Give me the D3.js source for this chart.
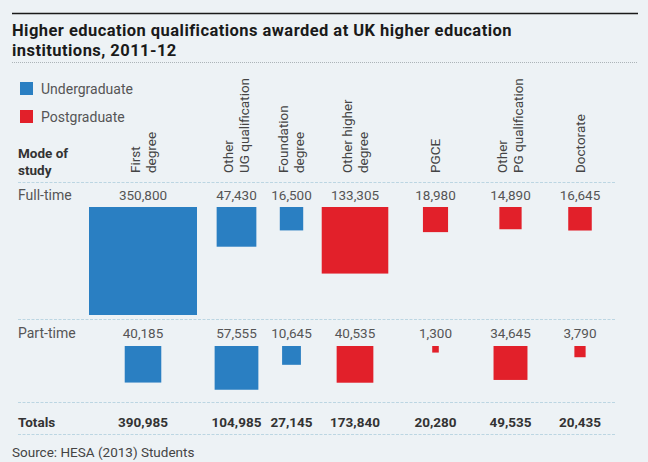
<!DOCTYPE html>
<html>
<head>
<meta charset="utf-8">
<script src="https://cdn.jsdelivr.net/npm/d3@7"></script>
<style>
  html, body { margin: 0; padding: 0; background: #edf2f5; }
  svg { display: block; }
  text { font-family: Roboto, "Noto Sans", sans-serif; }
</style>
</head>
<body>
<script>
// ---------- DATA ----------
const categories = ["First degree", "Other UG qualification", "Foundation degree", "Other higher degree", "PGCE", "Other PG qualification", "Doctorate"];
const categoryLabelLines = [["First", "degree"], ["Other", "UG qualification"], ["Foundation", "degree"], ["Other higher", "degree"], ["PGCE"], ["Other", "PG qualification"], ["Doctorate"]];
const levels = ["Undergraduate", "Undergraduate", "Undergraduate", "Postgraduate", "Postgraduate", "Postgraduate", "Postgraduate"];
const modes = ["Full-time", "Part-time"];
const fullTime = [350800, 47430, 16500, 133305, 18980, 14890, 16645];
const partTime = [40185, 57555, 10645, 40535, 1300, 34645, 3790];
const totals = [390985, 104985, 27145, 173840, 20280, 49535, 20435];
const legendItems = ["Undergraduate", "Postgraduate"];

// ---------- LAYOUT ----------
const W = 648, H = 462;
const colCenters = [143, 236.5, 291.5, 355, 435.5, 510.5, 580];
const rowValueBaseline = [200, 338];
const rowSquareTop = [207, 346];
const ruleYs = [182, 319, 402, 434];
const colors = { "Undergraduate": "#2a7fc2", "Postgraduate": "#e2202a" };

const svg = d3.select("body").append("svg").attr("width", W).attr("height", H);
svg.append("rect").attr("width", W).attr("height", H).attr("fill", "#edf2f5");

// Scales
const x = d3.scaleOrdinal().domain(categories).range(colCenters);
const yVal = d3.scaleOrdinal().domain(modes).range(rowValueBaseline);
const yTop = d3.scaleOrdinal().domain(modes).range(rowSquareTop);
const size = d3.scaleSqrt().domain([0, d3.max(fullTime.concat(partTime))]).range([0, 108]);
const fmt = d3.format(",");

// Title
svg.append("line").attr("x1", 12).attr("x2", 638).attr("y1", 13.5).attr("y2", 13.5)
  .attr("stroke", "#1a1a1a").attr("stroke-width", 1.6);
const title = svg.append("text").attr("x", 12).attr("y", 36)
  .attr("font-size", 16.5).attr("font-weight", 700).attr("letter-spacing", 0.45).attr("fill", "#1a1a1a");
title.append("tspan").attr("x", 12).attr("y", 36).text("Higher education qualifications awarded at UK higher education");
title.append("tspan").attr("x", 12).attr("y", 55.5).text("institutions, 2011-12");
svg.append("line").attr("x1", 12).attr("x2", 638).attr("y1", 62.5).attr("y2", 62.5)
  .attr("stroke", "#9aa3a8").attr("stroke-width", 0.8).attr("stroke-dasharray", "1,1");

// Legend
const leg = svg.append("g");
legendItems.forEach((k, i) => {
  leg.append("rect").attr("x", 20).attr("y", 82 + i * 28).attr("width", 13).attr("height", 13)
    .attr("fill", colors[k]);
  leg.append("text").attr("x", 41).attr("y", 94 + i * 28).attr("font-size", 14)
    .attr("fill", "#555").text(k);
});

// Header "Mode of study"
svg.append("text").attr("x", 18).attr("y", 158).attr("font-size", 13.5).attr("font-weight", 700)
  .attr("fill", "#333").text("Mode of");
svg.append("text").attr("x", 18).attr("y", 175).attr("font-size", 13.5).attr("font-weight", 700)
  .attr("fill", "#333").text("study");

// Column labels (rotated)
categories.forEach((c, i) => {
  const lines = categoryLabelLines[i];
  const n = lines.length;
  lines.forEach((ln, j) => {
    const bx = x(c) + (j - (n - 1) / 2) * 16 + 4.5;
    svg.append("text")
      .attr("transform", `translate(${bx},173) rotate(-90)`)
      .attr("font-size", 13.5).attr("fill", "#444").text(ln);
  });
});

// Rules
ruleYs.forEach(y => {
  svg.append("line").attr("x1", 18).attr("x2", 616).attr("y1", y + 0.5).attr("y2", y + 0.5)
    .attr("stroke", "#bcd6e2").attr("stroke-width", 1).attr("stroke-dasharray", "3,1.5");
});

// Rows
const rows = [fullTime, partTime];
modes.forEach((m, r) => {
  svg.append("text").attr("x", 18).attr("y", yVal(m)).attr("font-size", 14)
    .attr("fill", "#555").text(m);
  const data = categories.map((c, i) => ({ c, v: rows[r][i], lvl: levels[i] }));
  const g = svg.append("g");
  g.selectAll("text.val").data(data).join("text").attr("class", "val")
    .attr("x", d => x(d.c)).attr("y", yVal(m)).attr("text-anchor", "middle")
    .attr("font-size", 13.5).attr("fill", "#555").text(d => fmt(d.v));
  g.selectAll("rect").data(data).join("rect")
    .attr("x", d => x(d.c) - size(d.v) / 2)
    .attr("y", yTop(m))
    .attr("width", d => size(d.v)).attr("height", d => size(d.v))
    .attr("fill", d => colors[d.lvl]);
});

// Totals
svg.append("text").attr("x", 18).attr("y", 427).attr("font-size", 13.5).attr("font-weight", 700)
  .attr("fill", "#333").text("Totals");
svg.append("g").selectAll("text").data(categories).join("text")
  .attr("x", d => x(d)).attr("y", 427).attr("text-anchor", "middle")
  .attr("font-size", 13.5).attr("font-weight", 700).attr("fill", "#333")
  .text((d, i) => fmt(totals[i]));

// Source
svg.append("text").attr("x", 12).attr("y", 457).attr("font-size", 13.5)
  .attr("fill", "#444").text("Source: HESA (2013) Students");
</script>
</body>
</html>
